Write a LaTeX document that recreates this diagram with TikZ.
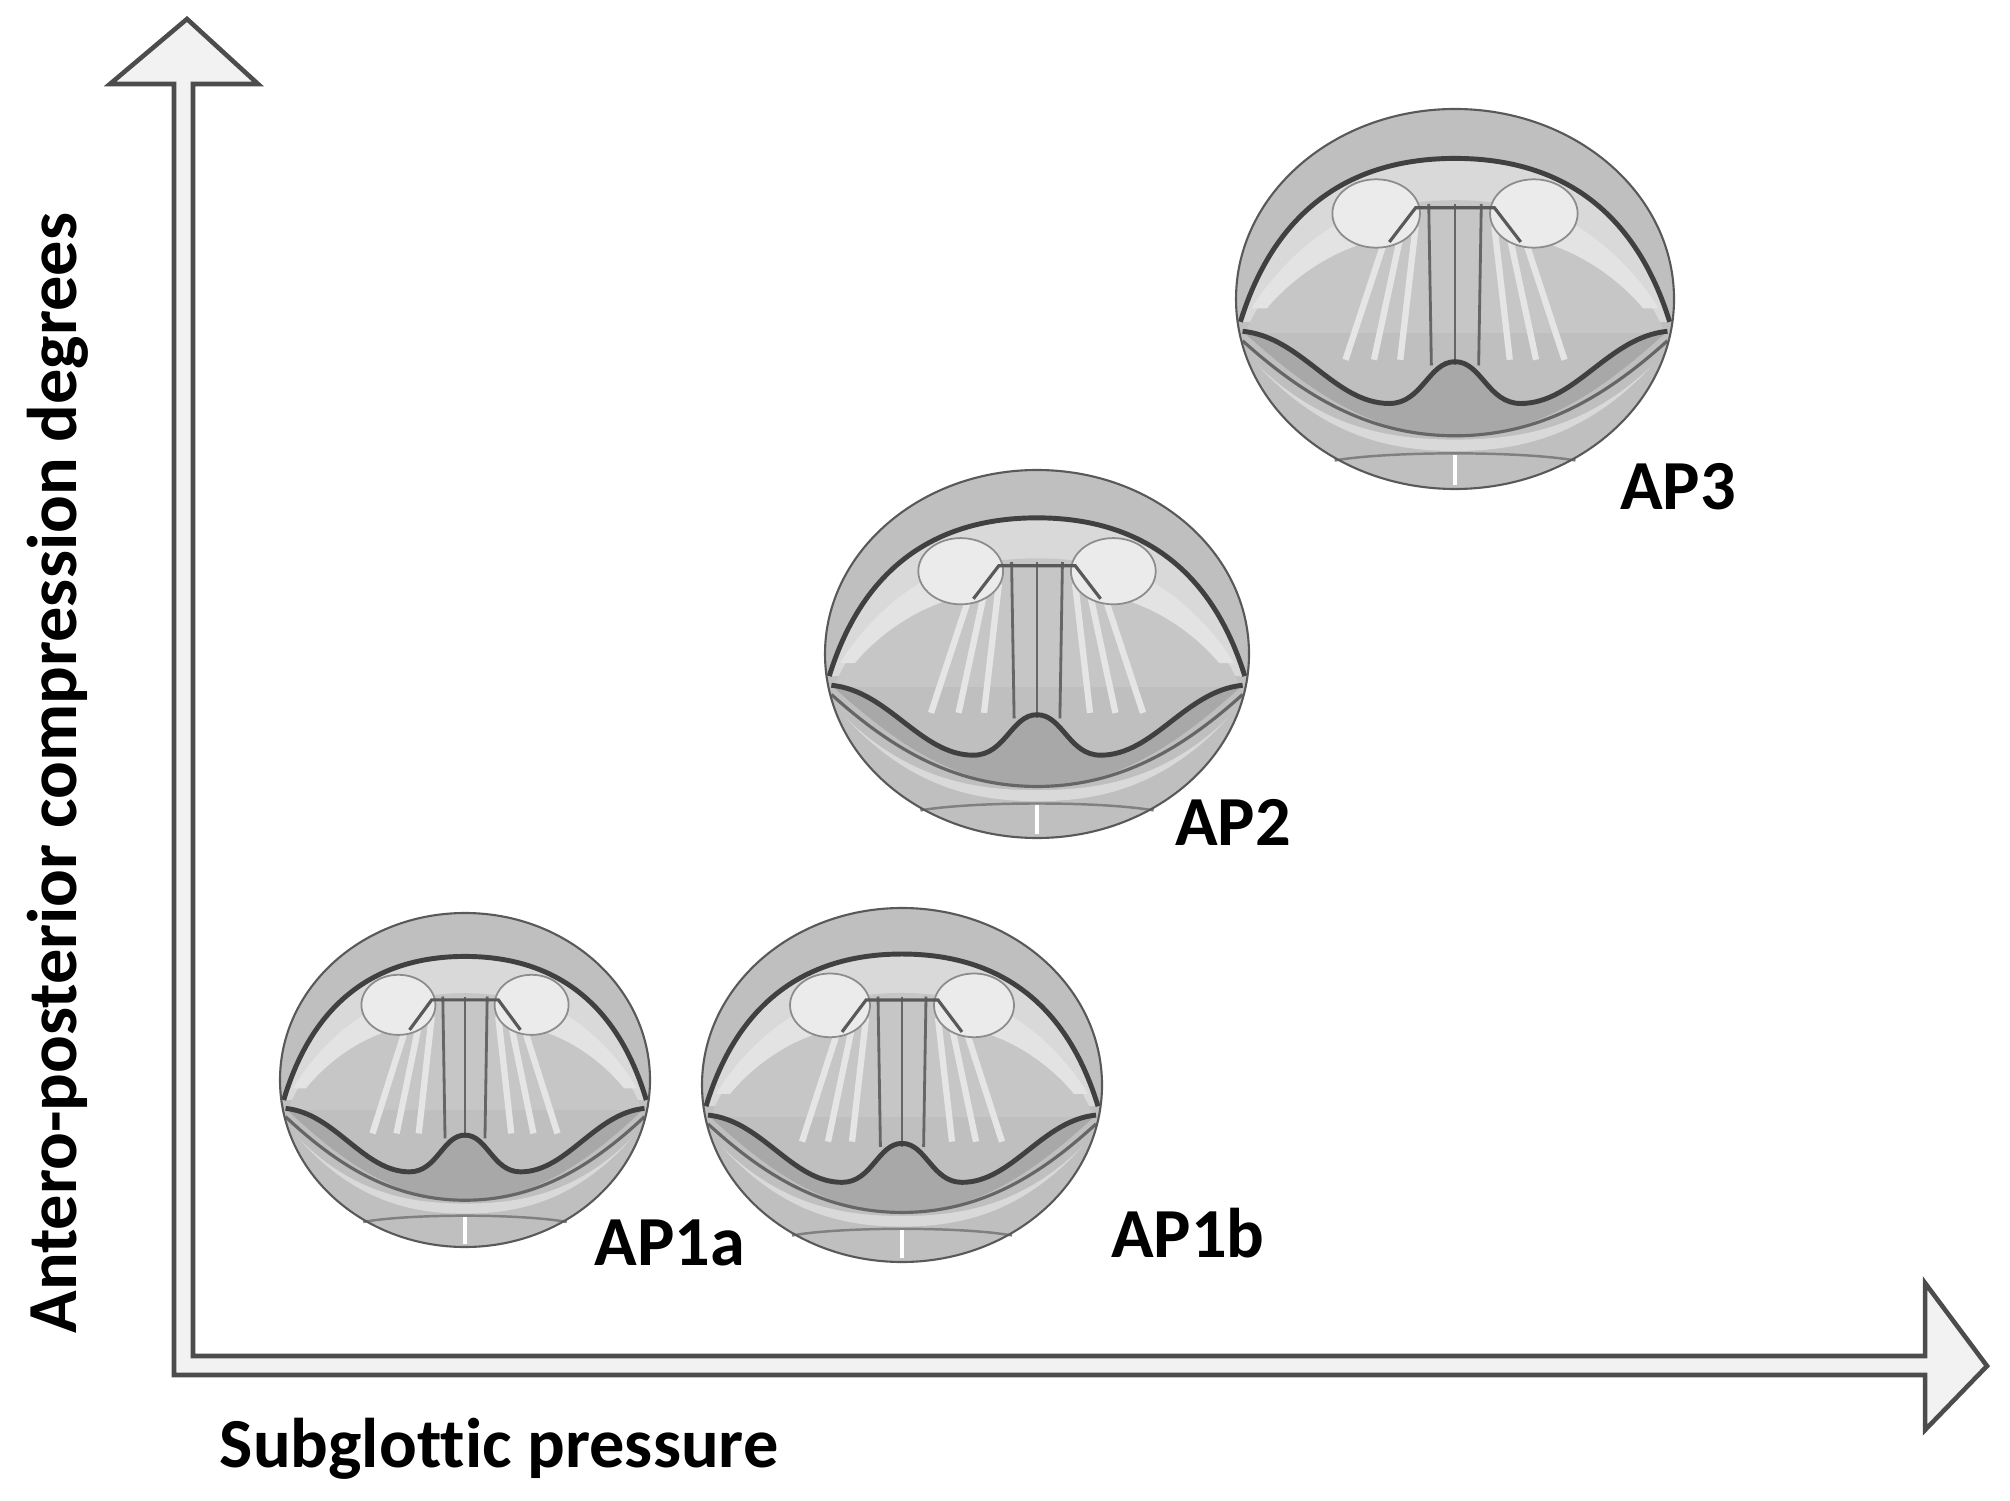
\documentclass[tikz,border=0pt]{standalone}
\usepackage{fontspec}
\setmainfont[Ligatures=NoCommon]{Carlito}
\begin{document}
\begin{tikzpicture}[x=0.01cm,y=-0.01cm,
  lbl/.style={font=\bfseries\fontsize{20}{24}\selectfont, text=black, inner sep=0pt},
  rim/.style={draw=black!75, line width=1.4pt},
  larynx/.pic={
    \fill[gray!50] (0,0) circle (1);
    \fill[gray!30] (-0.98,0.12) .. controls (-0.8,-0.55) and (-0.4,-0.74) .. (0,-0.74)
       .. controls (0.4,-0.74) and (0.8,-0.55) .. (0.98,0.12) -- cycle;
    \fill[gray!45] (-0.96,0.18) .. controls (-0.75,-0.35) and (-0.4,-0.52) .. (0,-0.52)
       .. controls (0.4,-0.52) and (0.75,-0.35) .. (0.96,0.18) -- cycle;
    % lower dark area
    \fill[gray!68] (-0.97,0.17) .. controls (-0.7,0.2) and (-0.55,0.55) .. (-0.3,0.55)
       .. controls (-0.15,0.55) and (-0.12,0.33) .. (0,0.33)
       .. controls (0.12,0.33) and (0.15,0.55) .. (0.3,0.55)
       .. controls (0.55,0.55) and (0.7,0.2) .. (0.97,0.17)
       .. controls (0.7,0.45) and (0.4,0.72) .. (0,0.72)
       .. controls (-0.4,0.72) and (-0.7,0.45) .. (-0.97,0.17) -- cycle;
    \fill[gray!30] (-0.9,0.35) .. controls (-0.6,0.72) and (-0.3,0.8) .. (0,0.8)
       .. controls (0.3,0.8) and (0.6,0.72) .. (0.9,0.35)
       .. controls (0.6,0.68) and (0.3,0.74) .. (0,0.74)
       .. controls (-0.3,0.74) and (-0.6,0.68) .. (-0.9,0.35) -- cycle;
    % fan lines
    \foreach \a/\b in {-0.3/-0.5,-0.24/-0.37,-0.18/-0.25,0.18/0.25,0.24/0.37,0.3/0.5}
      \draw[white!80!gray, line width=1.8pt] (\a,-0.38) -- (\b,0.32);
    \foreach \a in {-0.12,0,0.12}
      \draw[black!60, line width=0.8pt] (\a,-0.5) -- (\a*0.9,0.35);
    % lateral tubes
    \fill[gray!22] (-0.5,-0.42) .. controls (-0.7,-0.3) and (-0.85,-0.1) .. (-0.93,0.05)
       -- (-0.86,0.05) .. controls (-0.75,-0.1) and (-0.6,-0.22) .. (-0.45,-0.28) -- cycle;
    \fill[gray!22] (0.5,-0.42) .. controls (0.7,-0.3) and (0.85,-0.1) .. (0.93,0.05)
       -- (0.86,0.05) .. controls (0.75,-0.1) and (0.6,-0.22) .. (0.45,-0.28) -- cycle;
    % arytenoid lobes
    \fill[gray!16, draw=black!45, line width=0.5pt] (-0.36,-0.45) ellipse (0.2 and 0.18);
    \fill[gray!16, draw=black!45, line width=0.5pt] (0.36,-0.45) ellipse (0.2 and 0.18);
    \draw[black!65, line width=0.9pt] (-0.3,-0.3) -- (-0.18,-0.48) -- (0.18,-0.48) -- (0.3,-0.3);
    % contours
    \draw[rim] (-0.98,0.12) .. controls (-0.8,-0.55) and (-0.4,-0.74) .. (0,-0.74)
       .. controls (0.4,-0.74) and (0.8,-0.55) .. (0.98,0.12);
    \draw[rim] (-0.97,0.17) .. controls (-0.7,0.2) and (-0.55,0.55) .. (-0.3,0.55)
       .. controls (-0.15,0.55) and (-0.12,0.33) .. (0,0.33)
       .. controls (0.12,0.33) and (0.15,0.55) .. (0.3,0.55)
       .. controls (0.55,0.55) and (0.7,0.2) .. (0.97,0.17);
    \draw[black!60, line width=0.9pt] (-0.97,0.22) .. controls (-0.7,0.5) and (-0.4,0.72) .. (0,0.72)
       .. controls (0.4,0.72) and (0.7,0.5) .. (0.97,0.22);
    \draw[black!50, line width=0.7pt] (-0.55,0.85) .. controls (-0.3,0.8) and (0.3,0.8) .. (0.55,0.85);
    \draw[white, line width=1pt] (0,0.82) -- (0,0.98);
    \draw[gray!70!black, line width=0.6pt] (0,0) circle (1);
  }]
\useasboundingbox (0,0) rectangle (2010,1501);
% axes
\draw[fill=gray!10, draw=black!70, line width=1.3pt, line join=miter]
  (174,1375) -- (174,84) -- (110,84) -- (187,19) -- (258,84) -- (193,84)
  -- (193,1356) -- (1925,1356) -- (1925,1283) -- (1987,1366) -- (1925,1430)
  -- (1925,1375) -- cycle;
\pic (ap1a) at (465,1080) [xscale=185,yscale=167] {larynx};
\pic (ap1b) at (902,1085) [xscale=200,yscale=177] {larynx};
\pic (ap2) at (1037,654) [xscale=212,yscale=184] {larynx};
\pic (ap3) at (1455,299) [xscale=219,yscale=190] {larynx};
\node[lbl] (l1a) at (670,1243) {AP1a};
\node[lbl] (l1b) at (1188,1233) {AP1b};
\node[lbl] (l2) at (1233,822) {AP2};
\node[lbl] (l3) at (1678,487) {AP3};
\node[lbl, rotate=90] (ylab) at (58,773) {Antero-posterior compression degrees};
\node[lbl] (xlab) at (499,1449) {Subglottic pressure};
\end{tikzpicture}
\end{document}
